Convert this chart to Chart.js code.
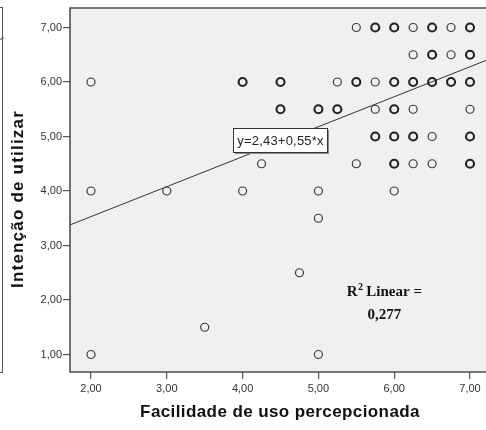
<!DOCTYPE html>
<html>
<head>
<meta charset="utf-8">
<script src="https://cdn.jsdelivr.net/npm/chart.js@4"></script>
<style>
  html, body { margin: 0; padding: 0; background: #fff; }
  #wrap { position: relative; width: 486px; height: 430px; overflow: hidden; }
  #frag { position: absolute; left: -2px; top: 7px; width: 4px; height: 364px;
          border-top: 1.5px solid #555; border-right: 1.5px solid #555; border-bottom: 1.5px solid #555; }
  #fragline { position: absolute; left: 0; top: 38px; width: 4px; height: 1px; background: #555; transform: rotate(-30deg); }
  canvas { position: absolute; left: 0; top: 0; }
</style>
</head>
<body>
<div id="wrap">
  <div id="frag"></div>
  <div id="fragline"></div>
  <canvas id="c" width="486" height="430"></canvas>
</div>
<script>
// ---- data ----
const xTicks = [2, 3, 4, 5, 6, 7];
const xTickLabels = ['2,00', '3,00', '4,00', '5,00', '6,00', '7,00'];
const yTicks = [1, 2, 3, 4, 5, 6, 7];
const yTickLabels = ['1,00', '2,00', '3,00', '4,00', '5,00', '6,00', '7,00'];

// single / few observations (thin circles)
const easeThin   = [5.5, 6.25, 6.75, 6.25, 6.75, 2, 5.25, 5.75, 5.75, 6.25, 7, 6.5, 4.25, 5.5, 6.25, 6.5, 2, 3, 4, 5, 6, 5, 4.75, 3.5, 2, 5];
const intentThin = [7,   7,    7,    6.5,  6.5,  6, 6,    6,    5.5,  5.5,  5.5, 5, 4.5,  4.5, 4.5,  4.5, 4, 4, 4, 4, 4, 3.5, 2.5, 1.5, 1, 1];
// overlapping observations (bold circles)
const easeBold   = [5.75, 6, 6.5, 7, 6.5, 7, 4, 4.5, 5.5, 6, 6.25, 6.5, 6.75, 7, 4.5, 5, 5.25, 6, 5.75, 6, 6.25, 7, 6, 7];
const intentBold = [7,    7, 7,   7, 6.5, 6.5, 6, 6, 6,   6, 6,    6,   6,    6, 5.5, 5.5, 5.5, 5.5, 5, 5, 5,    5, 4.5, 4.5];

const fitIntercept = 2.43;
const fitSlope = 0.55;
const rSquared = '0,277';
const equationText = 'y=2,43+0,55*x';

const xMin = 1.723, xMax = 7.211;
const yMin = 0.679, yMax = 7.358;

const toPts = (xs, ys) => xs.map((x, i) => ({ x: x, y: ys[i] }));
const fitLine = [xMin, xMax].map(x => ({ x: x, y: fitIntercept + fitSlope * x }));

Chart.defaults.font.family = '"Liberation Sans", Arial, sans-serif';
Chart.defaults.color = '#333';

const frame = {
  id: 'frame',
  beforeDraw(chart) {
    const { ctx, chartArea: a } = chart;
    ctx.save();
    ctx.fillStyle = '#f0f0f0';
    ctx.fillRect(a.left, a.top, a.right - a.left, a.bottom - a.top);
    ctx.restore();
  },
  afterDraw(chart) {
    const { ctx, chartArea: a, scales } = chart;
    const xs = scales.x, ys = scales.y;
    ctx.save();
    // frame
    ctx.strokeStyle = '#4d4d4d';
    ctx.lineWidth = 1.6;
    ctx.beginPath();
    ctx.moveTo(a.right + 2, a.top);
    ctx.lineTo(a.left, a.top);
    ctx.lineTo(a.left, a.bottom);
    ctx.lineTo(a.right + 2, a.bottom);
    ctx.stroke();

    // equation label
    const cx = xs.getPixelForValue(4.49);
    const cy = ys.getPixelForValue(4.94);
    ctx.font = '13px "Liberation Sans", Arial, sans-serif';
    ctx.letterSpacing = '0.2px';
    const tw = ctx.measureText(equationText).width;
    const bw = Math.round(tw + 8), bh = 24;
    const bx = Math.round(cx - bw / 2) + 0.5, by = Math.round(cy - bh / 2) + 0.5;
    ctx.fillStyle = '#8a8a8a';
    ctx.fillRect(bx + 1.5, by + 1.5, bw, bh);
    ctx.fillStyle = '#ffffff';
    ctx.fillRect(bx, by, bw, bh);
    ctx.strokeStyle = '#333';
    ctx.lineWidth = 1;
    ctx.strokeRect(bx, by, bw, bh);
    ctx.fillStyle = '#222';
    ctx.textAlign = 'center';
    ctx.textBaseline = 'middle';
    ctx.fillText(equationText, bx + bw / 2, by + bh / 2 + 0.5);
    ctx.letterSpacing = '0px';

    // R squared
    const rx = xs.getPixelForValue(5.87);
    const r1 = ys.getPixelForValue(2.08);
    const r2 = ys.getPixelForValue(1.66);
    ctx.fillStyle = '#111';
    ctx.textBaseline = 'alphabetic';
    const part1 = 'R', part2 = ' Linear =';
    ctx.font = 'bold 15px "Liberation Serif", serif';
    const w1 = ctx.measureText(part1).width;
    const w2 = ctx.measureText(part2).width;
    ctx.font = 'bold 10px "Liberation Serif", serif';
    const ws = ctx.measureText('2').width;
    const total = w1 + ws + w2;
    let sx = rx - total / 2;
    ctx.textAlign = 'left';
    ctx.font = 'bold 15px "Liberation Serif", serif';
    ctx.fillText(part1, sx, r1);
    ctx.font = 'bold 10px "Liberation Serif", serif';
    ctx.fillText('2', sx + w1 + 0.5, r1 - 6);
    ctx.font = 'bold 15px "Liberation Serif", serif';
    ctx.fillText(part2, sx + w1 + ws, r1);
    ctx.textAlign = 'center';
    ctx.fillText(rSquared, rx, r2);

    // axis titles
    ctx.fillStyle = '#111';
    ctx.font = 'bold 17px "Liberation Sans", Arial, sans-serif';
    ctx.textAlign = 'center';
    ctx.textBaseline = 'middle';
    ctx.letterSpacing = '0.4px';
    ctx.fillText('Facilidade de uso percepcionada', (a.left + a.right) / 2 + 2, 412);
    ctx.translate(18, 199);
    ctx.rotate(-Math.PI / 2);
    ctx.letterSpacing = '1.2px';
    ctx.fillText('Intenção de utilizar', 0, 0);
    ctx.restore();
  }
};

new Chart(document.getElementById('c'), {
  type: 'scatter',
  data: {
    datasets: [
      {
        data: toPts(easeThin, intentThin),
        pointRadius: 4,
        pointBorderWidth: 1.2,
        pointBorderColor: '#3a3a3a',
        pointBackgroundColor: 'rgba(0,0,0,0)',
        pointHoverRadius: 4
      },
      {
        data: toPts(easeBold, intentBold),
        pointRadius: 4,
        pointBorderWidth: 2.1,
        pointBorderColor: '#222',
        pointBackgroundColor: 'rgba(0,0,0,0)',
        pointHoverRadius: 4
      },
      {
        type: 'line',
        data: fitLine,
        borderColor: '#333',
        borderWidth: 1,
        pointRadius: 0,
        fill: false
      }
    ]
  },
  options: {
    responsive: false,
    animation: false,
    events: [],
    layout: { autoPadding: false, padding: { left: 0, right: 0, top: 8, bottom: 0 } },
    plugins: { legend: { display: false }, tooltip: { enabled: false } },
    scales: {
      x: {
        type: 'linear',
        min: xMin, max: xMax,
        afterBuildTicks: s => { s.ticks = xTicks.map(v => ({ value: v })); },
        afterFit: s => { s.height = 58; },
        ticks: {
          font: { size: 11 }, color: '#333', padding: 3, maxRotation: 0,
          callback: (v) => xTickLabels[xTicks.indexOf(v)]
        },
        grid: { display: true, drawOnChartArea: false, tickLength: 7, color: '#555', lineWidth: 1.2 },
        border: { display: false }
      },
      y: {
        type: 'linear',
        min: yMin, max: yMax,
        afterBuildTicks: s => { s.ticks = yTicks.map(v => ({ value: v })); },
        afterFit: s => { s.width = 70; },
        ticks: {
          font: { size: 11 }, color: '#333', padding: 1,
          callback: (v) => yTickLabels[yTicks.indexOf(v)]
        },
        grid: { display: true, drawOnChartArea: false, tickLength: 7, color: '#555', lineWidth: 1.2 },
        border: { display: false }
      }
    }
  },
  plugins: [frame]
});
</script>
</body>
</html>
